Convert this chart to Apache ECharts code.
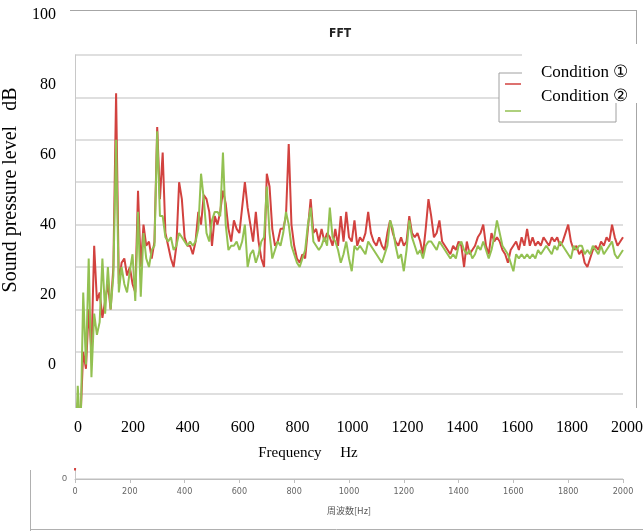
<!DOCTYPE html>
<html>
<head>
<meta charset="utf-8">
<script src="https://cdn.jsdelivr.net/npm/echarts@6/dist/echarts.min.js"></script>
<style>
  html, body { margin: 0; padding: 0; background: #fff; }
  #fft { width: 643px; height: 531px; }
</style>
</head>
<body>
<div id="fft"></div>
<script>
// two measurement conditions, FFT spectrum 0-2000 Hz
const seriesNames = ['Condition ①', 'Condition ②'];
const freqStart = 0;
const freqStep = 10;

// Condition ① (red), one value per 10 Hz
const cond1 = [
  2, 18, 14, 30, 26, 40, 30, 55, 42, 44,
  38, 42, 46, 40, 50, 91, 46, 51, 52, 48,
  50, 46, 44, 68, 50, 60, 55, 56, 52, 56,
  83, 66, 77, 58, 55, 52, 50, 55, 70, 66,
  57, 55, 55, 53, 56, 63, 60, 67, 66, 63,
  55, 62, 60, 63, 68, 65, 59, 56, 61, 59,
  58, 64, 70, 64, 60, 56, 63, 56, 52, 50,
  72, 69, 59, 55, 56, 59, 59, 62, 79, 60,
  55, 52, 51, 53, 52, 59, 66, 58, 59, 56,
  59, 56, 58, 57, 55, 59, 55, 62, 56, 63,
  57, 56, 61, 55, 57, 56, 58, 63, 58, 56,
  55, 57, 55, 54, 58, 61, 58, 56, 55, 57,
  55, 56, 62, 58, 57, 58, 56, 53, 59, 66,
  62, 57, 58, 61, 56, 55, 54, 53, 55, 54,
  56, 55, 50, 56, 53, 54, 55, 57, 58, 60,
  55, 53, 58, 56, 57, 56, 54, 53, 51, 54,
  55, 56, 54, 57, 55, 59, 55, 57, 55, 56,
  55, 57, 56, 55, 57, 56, 57, 55, 56, 58,
  60, 56, 54, 55, 53, 54, 51, 50, 52, 54,
  55, 54, 56, 55, 57, 56, 60, 57, 55, 56,
  57
];

// Condition ② (green)
const cond2 = [
  3, 22, 10, 44, 27, 52, 24, 39, 34, 37,
  52, 39, 50, 40, 48, 80, 44, 50, 46, 44,
  49, 53, 42, 63, 43, 58, 52, 50, 54, 55,
  82, 62, 62, 57, 56, 57, 54, 55, 58, 57,
  56, 55, 56, 55, 56, 59, 72, 66, 58, 56,
  61, 63, 63, 62, 77, 60, 54, 55, 55, 56,
  54, 56, 60, 50, 53, 54, 51, 53, 56, 57,
  69, 58, 52, 54, 56, 55, 58, 63, 60, 55,
  53, 51, 50, 52, 54, 60, 64, 56, 55, 54,
  55, 57, 55, 64, 57, 56, 54, 51, 53, 56,
  52, 49, 55, 54, 55, 54, 53, 56, 55, 54,
  53, 52, 51, 53, 55, 61, 59, 55, 52, 53,
  49, 54, 61, 57, 55, 53, 54, 52, 55, 56,
  56, 55, 54, 56, 55, 54, 53, 52, 53, 52,
  55, 56, 54, 53, 54, 52, 53, 55, 54, 56,
  54, 52, 54, 57, 61, 58, 55, 54, 53, 51,
  49, 53, 52, 53, 52, 53, 52, 53, 52, 54,
  53, 54, 55, 54, 53, 55, 54, 56, 55, 54,
  53, 52, 55, 54, 55, 55, 53, 54, 53, 55,
  54, 53, 55, 53, 54, 55, 56, 53, 52, 53,
  54
];

// axis ranges
const freqMax = 2000, freqTick = 200;
const levelMax = 100, levelTick = 10;        // original chart gridlines
const labelLevelTick = 20;                   // overlaid english labels

const colors = ['#d2423f', '#93c152'];
const serif = 'Liberation Serif';
const toPairs = (vals) => vals.map((v, i) => [freqStart + i * freqStep, v]);
const plain = (v) => String(v);

const myChart = echarts.init(document.getElementById('fft'));
const option = {
  animation: false,
  title: {
    text: 'FFT',
    left: 324,
    top: 23,
    textStyle: { fontFamily: 'DejaVu Sans Condensed', fontSize: 12, fontWeight: 'bold', color: '#222' }
  },
  legend: {
    data: seriesNames,
    orient: 'vertical',
    left: 499,
    top: 73,
    itemWidth: 16,
    itemHeight: 12,
    itemGap: 15,
    icon: 'path://M0,0 M16,12 M0,5.25 L16,5.25 L16,6.75 L0,6.75 Z',
    padding: [5, 95, 5, 6],
    backgroundColor: '#fff',
    borderColor: '#a0a0a0',
    borderWidth: 1,
    formatter: () => '',
    textStyle: { fontSize: 1 }
  },
  grid: [
    { left: 75, right: 20, top: 55, bottom: 52, containLabel: false, outerBoundsMode: 'none' },
    { left: 78, right: 16, top: 15, bottom: 166, containLabel: false, outerBoundsMode: 'none' }
  ],
  xAxis: [
    {
      gridIndex: 0, type: 'value', min: 0, max: freqMax, interval: freqTick,
      axisLine: { lineStyle: { color: '#bfbfbf' } },
      axisTick: { show: true, length: 4, lineStyle: { color: '#bfbfbf' } },
      axisLabel: { formatter: plain, fontSize: 9, color: '#666', fontFamily: 'DejaVu Sans Condensed', margin: 8 },
      splitLine: { show: false },
      name: '周波数[Hz]', nameLocation: 'middle', nameGap: 27,
      nameTextStyle: { fontSize: 9, color: '#555', fontFamily: 'Noto Sans CJK JP' }
    },
    {
      gridIndex: 1, type: 'value', min: 0, max: freqMax, interval: freqTick,
      offset: 47, z: 150,
      axisLine: { show: false }, axisTick: { show: false }, splitLine: { show: false },
      axisLabel: { formatter: plain, fontFamily: serif, fontSize: 16, color: '#000' }
    }
  ],
  yAxis: [
    {
      gridIndex: 0, type: 'value', min: 0, max: levelMax, interval: levelTick,
      axisLine: { show: true, lineStyle: { color: '#c8c8c8' } },
      axisTick: { show: false },
      splitLine: { lineStyle: { color: '#d4d4d4', width: 1.5 } },
      axisLabel: { formatter: (v) => (v === 0 ? '0' : ''), fontSize: 9, color: '#666', margin: 8 }
    },
    {
      gridIndex: 1, type: 'value', min: 0, max: levelMax, interval: labelLevelTick,
      axisLine: { show: false }, axisTick: { show: false }, splitLine: { show: false },
      axisLabel: { formatter: plain, fontFamily: serif, fontSize: 16, color: '#000', margin: 22 },
      name: 'Sound pressure level   dB', nameLocation: 'middle', nameGap: 52,
      nameTextStyle: { fontFamily: serif, fontSize: 20, color: '#000' }
    }
  ],
  graphic: [
    // chart border (upper part)
    { type: 'line', z: 50, shape: { x1: 70, y1: 10.5, x2: 636, y2: 10.5 }, style: { stroke: '#a6a6a6', lineWidth: 1 } },
    { type: 'line', z: 50, shape: { x1: 636.5, y1: 10, x2: 636.5, y2: 408 }, style: { stroke: '#a6a6a6', lineWidth: 1 } },
    // white band hiding the lower part of the plot
    { type: 'rect', z: 100, shape: { x: 0, y: 408, width: 643, height: 60 }, style: { fill: '#fff' } },
    // lower strip border
    { type: 'line', z: 110, shape: { x1: 30.5, y1: 470, x2: 30.5, y2: 531 }, style: { stroke: '#b0b0b0', lineWidth: 1 } },
    { type: 'line', z: 110, shape: { x1: 30, y1: 529.5, x2: 643, y2: 529.5 }, style: { stroke: '#b0b0b0', lineWidth: 1 } },
    // box with the legend texts
    { type: 'rect', z: 100, shape: { x: 522, y: 44, width: 121, height: 59 }, style: { fill: '#fff' } },
    {
      type: 'text', z: 120, x: 541, y: 73,
      style: { text: seriesNames[0], font: '17px "Liberation Serif", "DejaVu Serif"', fill: '#000', textVerticalAlign: 'middle', verticalAlign: 'middle' }
    },
    {
      type: 'text', z: 120, x: 541, y: 97,
      style: { text: seriesNames[1], font: '17px "Liberation Serif", "DejaVu Serif"', fill: '#000', textVerticalAlign: 'middle', verticalAlign: 'middle' }
    },
    {
      type: 'text', z: 120, x: 308, y: 453,
      style: { text: 'Frequency     Hz', font: '15px "Liberation Serif"', fill: '#000', textAlign: 'center', align: 'center', textVerticalAlign: 'middle', verticalAlign: 'middle' }
    }
  ],
  series: [
    {
      name: seriesNames[0], type: 'line', xAxisIndex: 0, yAxisIndex: 0,
      data: toPairs(cond1), symbol: 'none',
      lineStyle: { color: colors[0], width: 2 }, itemStyle: { color: colors[0] }
    },
    {
      name: seriesNames[1], type: 'line', xAxisIndex: 0, yAxisIndex: 0,
      data: toPairs(cond2), symbol: 'none',
      lineStyle: { color: colors[1], width: 2 }, itemStyle: { color: colors[1] }
    }
  ]
};

myChart.setOption(option);
</script>
</body>
</html>
